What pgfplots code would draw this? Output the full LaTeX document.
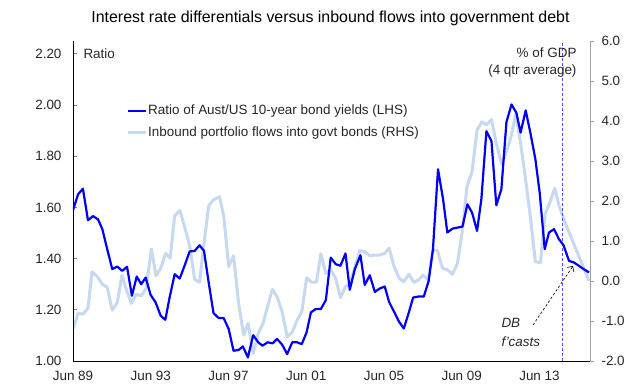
\documentclass[border=0pt]{standalone}
\usepackage{pgfplots}
\usepackage{pgfplotstable}
\usepackage{fontspec}
\setmainfont{Liberation Sans}
\pgfplotsset{compat=1.18}
\usetikzlibrary{arrows.meta}
\definecolor{darkb}{RGB}{0,0,245}
\definecolor{lightb}{RGB}{198,217,241}
\definecolor{vline}{RGB}{80,80,255}
\definecolor{raxis}{RGB}{160,160,160}

\pgfplotstableread{
year ratio
1989.50 1.589
1989.76 1.651
1990.01 1.673
1990.27 1.550
1990.53 1.566
1990.79 1.553
1991.01 1.515
1991.26 1.437
1991.52 1.359
1991.78 1.369
1992.03 1.352
1992.28 1.368
1992.53 1.255
1992.78 1.330
1993.01 1.300
1993.24 1.326
1993.49 1.259
1993.75 1.229
1994.01 1.177
1994.25 1.161
1994.47 1.248
1994.73 1.339
1994.99 1.322
1995.24 1.372
1995.50 1.428
1995.76 1.430
1996.01 1.452
1996.24 1.430
1996.48 1.307
1996.73 1.187
1996.99 1.168
1997.25 1.168
1997.51 1.125
1997.76 1.040
1998.02 1.043
1998.24 1.057
1998.50 1.014
1998.77 1.101
1999.03 1.073
1999.25 1.060
1999.51 1.073
1999.77 1.069
2000.00 1.086
2000.26 1.064
2000.52 1.027
2000.78 1.073
2001.03 1.073
2001.27 1.066
2001.52 1.112
2001.74 1.190
2001.99 1.203
2002.25 1.203
2002.51 1.238
2002.76 1.404
2003.02 1.378
2003.26 1.372
2003.52 1.420
2003.74 1.278
2004.00 1.359
2004.29 1.413
2004.51 1.297
2004.77 1.335
2005.03 1.270
2005.28 1.283
2005.54 1.291
2005.76 1.231
2006.02 1.192
2006.28 1.153
2006.52 1.127
2006.78 1.190
2007.00 1.248
2007.29 1.252
2007.55 1.252
2007.80 1.313
2008.02 1.437
2008.28 1.749
2008.54 1.632
2008.76 1.502
2009.02 1.517
2009.28 1.521
2009.54 1.525
2009.79 1.612
2010.03 1.580
2010.29 1.508
2010.51 1.632
2010.77 1.898
2011.03 1.859
2011.28 1.608
2011.54 1.671
2011.80 1.933
2012.06 2.002
2012.31 1.970
2012.53 1.892
2012.79 1.979
2013.03 1.892
2013.29 1.788
2013.51 1.658
2013.77 1.437
2013.99 1.502
2014.25 1.515
2014.50 1.476
2014.74 1.452
2015.02 1.391
2015.27 1.385
2015.53 1.372
2015.77 1.359
2016.05 1.346
}\ratiodata

\pgfplotstableread{
year flows
1989.50 -1.21
1989.76 -0.81
1990.01 -0.83
1990.27 -0.68
1990.48 0.23
1990.75 0.11
1991.01 -0.08
1991.26 -0.16
1991.52 -0.73
1991.78 -0.54
1992.02 0.15
1992.26 -0.23
1992.50 -0.56
1992.75 -0.33
1993.01 -0.37
1993.27 -0.18
1993.53 0.80
1993.77 0.13
1994.01 0.32
1994.27 0.69
1994.50 0.57
1994.73 1.63
1995.00 1.76
1995.24 1.36
1995.50 0.88
1995.76 0.04
1996.01 -0.03
1996.24 0.94
1996.48 1.88
1996.73 2.03
1997.04 2.11
1997.26 1.61
1997.51 0.36
1997.76 0.63
1998.02 -0.56
1998.28 -1.35
1998.51 -1.06
1998.77 -1.81
1999.03 -1.31
1999.28 -1.06
1999.51 -0.64
1999.75 -0.21
2000.00 -0.39
2000.26 -0.77
2000.52 -1.39
2000.78 -1.28
2001.03 -0.98
2001.27 -0.77
2001.52 0.08
2001.77 -0.03
2002.03 -0.03
2002.25 0.68
2002.51 0.19
2002.75 0.28
2003.01 0.07
2003.26 -0.42
2003.52 -0.14
2003.74 -0.08
2004.00 0.34
2004.26 0.76
2004.51 0.73
2004.77 0.63
2005.03 0.65
2005.28 0.65
2005.54 0.69
2005.76 0.82
2006.02 0.36
2006.28 0.07
2006.52 -0.02
2006.78 0.17
2007.03 -0.03
2007.29 0.03
2007.51 0.15
2007.77 0.03
2008.02 0.78
2008.25 0.76
2008.51 0.32
2008.76 0.28
2009.02 0.17
2009.28 0.44
2009.54 1.28
2009.77 2.36
2010.03 2.73
2010.29 3.78
2010.54 3.98
2010.77 3.90
2011.03 4.04
2011.28 3.44
2011.54 2.94
2011.80 3.23
2012.06 3.65
2012.28 4.19
2012.53 3.44
2012.79 2.53
2013.03 1.61
2013.29 0.48
2013.55 0.46
2013.80 1.69
2014.02 1.94
2014.28 2.32
2014.50 1.90
2014.76 1.53
2016.05 0.00
}\flowdata

\begin{document}
\begin{tikzpicture}[font=\fontsize{13.5}{16}\selectfont]
\useasboundingbox (-73bp,-30bp) rectangle (561bp,361bp);
% right axis (flows)
\begin{axis}[
  at={(0,0)}, anchor=south west,
  scale only axis, width=517bp, height=320bp,
  xmin=1989.5, xmax=2016.1,
  ymin=-2, ymax=6,
  axis x line=none,
  axis y line*=right,
  y axis line style={draw=raxis, line width=0.9bp},
  ytick={-2,-1,...,6},
  ytick style={draw=raxis, line width=0.9bp},
  tick align=outside,
  major tick length=4bp,
  yticklabel style={/pgf/number format/fixed, /pgf/number format/fixed zerofill, /pgf/number format/precision=1, /pgf/number format/assume math mode=true, xshift=4bp, text=black!85},
  every tick label/.append style={font=\fontsize{13.5}{16}\selectfont},
]
\addplot[lightb, line width=3bp, line join=round] table[x=year, y=flows] {\flowdata};
\end{axis}
% left axis (ratio)
\begin{axis}[
  at={(0,0)}, anchor=south west,
  scale only axis, width=517bp, height=320bp,
  xmin=1989.5, xmax=2016.1,
  ymin=1, ymax=2.25,
  axis x line*=bottom,
  axis y line*=left,
  axis line style={line width=0.9bp, black},
  xtick={1989.5,1993.5,1997.5,2001.5,2005.5,2009.5,2013.5},
  xticklabels={Jun 89,Jun 93,Jun 97,Jun 01,Jun 05,Jun 09,Jun 13},
  x tick style={draw=none},
  xticklabel style={yshift=-7bp, text=black!85},
  ytick={1,1.2,...,2.21},
  tick align=inside,
  major tick length=4bp,
  ytick style={line width=0.9bp},
  yticklabel style={/pgf/number format/fixed, /pgf/number format/fixed zerofill, /pgf/number format/precision=2, /pgf/number format/assume math mode=true, xshift=-8bp, text=black!85},
  every tick label/.append style={font=\fontsize{13.5}{16}\selectfont},
  legend style={at={(53bp,257bp)}, anchor=north west, draw=none, fill=none,
     font=\fontsize{13.5}{16}\selectfont, row sep=8bp, inner sep=0pt,
     nodes={inner sep=1bp, text=black!85}},
  legend cell align=left,
  legend image code/.code={\draw[#1] (0bp,0bp) -- (18bp,0bp);},
]
\draw[vline, dashed, dash pattern=on 3bp off 2bp, line width=0.8bp] (axis cs:2014.69,1) -- (axis cs:2014.69,2.25);
\addplot[darkb, line width=2.2bp, line join=round] table[x=year, y=ratio] {\ratiodata};
\addlegendentry{Ratio of Aust/US 10-year bond yields (LHS)}
\addlegendimage{lightb, line width=3bp}
\addlegendentry{Inbound portfolio flows into govt bonds (RHS)}
\end{axis}
\node[text=black] at (257.5bp,343bp) {\fontsize{16}{19}\selectfont Interest rate differentials versus inbound flows into government debt};
\node[anchor=west, text=black!85] at (7bp,307bp) {Ratio};
\node[anchor=east, text=black!85] at (507bp,308bp) {\% of GDP};
\node[anchor=east, text=black!85] at (507bp,290bp) {(4 qtr average)};
\node[anchor=west, text=black!85, font=\fontsize{13.5}{16}\selectfont\itshape] at (425bp,38bp) {DB};
\node[anchor=west, text=black!85, font=\fontsize{13.5}{16}\selectfont\itshape] at (425bp,19bp) {f'casts};
\draw[dashed, dash pattern=on 2.5bp off 2bp, line width=0.6bp, -{Straight Barb[length=4bp]}] (460bp,36bp) -- (500bp,95bp);
\end{tikzpicture}
\end{document}
